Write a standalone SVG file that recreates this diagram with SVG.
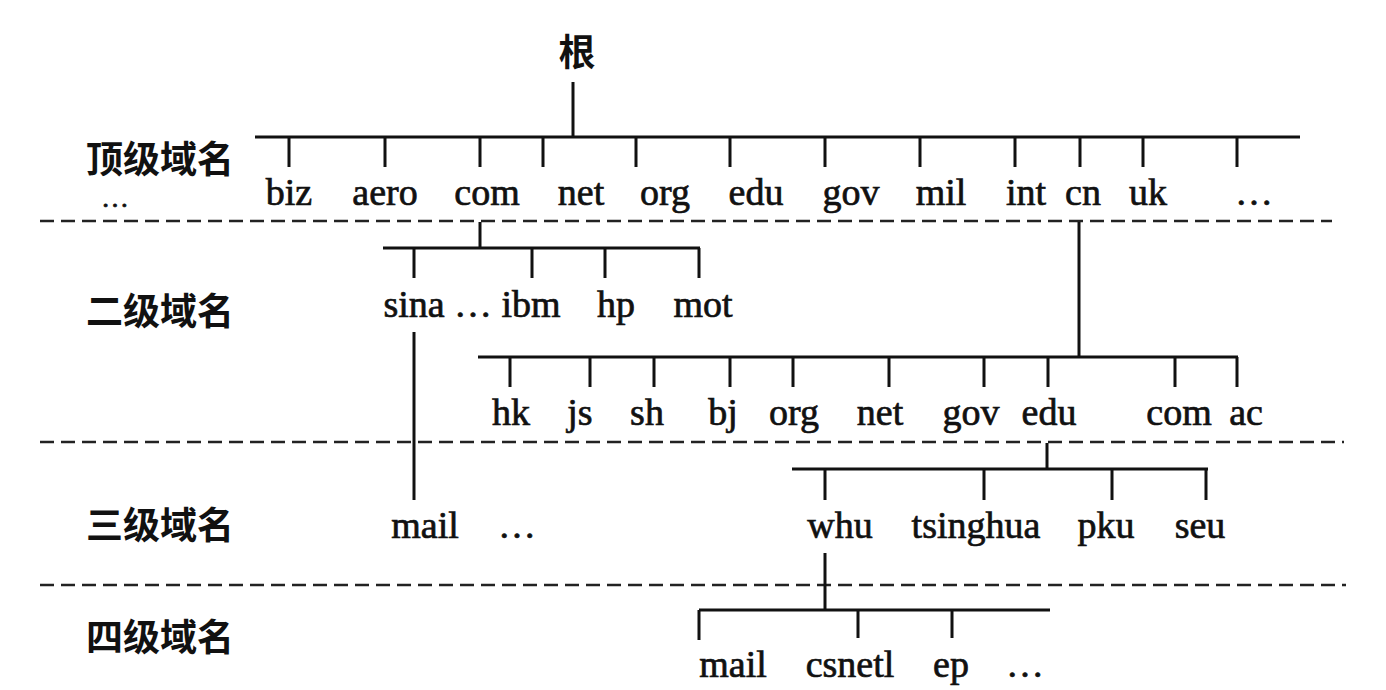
<svg xmlns="http://www.w3.org/2000/svg" width="1386" height="690" viewBox="0 0 1386 690">
<style>
.zh{font-family:"Noto Sans CJK SC","Noto Sans",sans-serif;font-size:37px;font-weight:700;fill:#111}
.t{font-family:"Liberation Serif","Times New Roman",serif;font-size:38px;fill:#111;stroke:#111;stroke-width:0.7;text-anchor:middle}
.ln{stroke:#111;stroke-width:3;fill:none}
.dash{stroke:#222;stroke-width:2.5;stroke-dasharray:14 7;fill:none}
</style>
<rect width="1386" height="690" fill="#fff"/>
<g id="levels">
<line class="dash" x1="40" y1="221" x2="1332" y2="221"/>
<line class="dash" x1="40" y1="442" x2="1344" y2="442"/>
<line class="dash" x1="40" y1="585" x2="1346" y2="585"/>
<text class="zh" x="86" y="173">顶级域名</text>
<text class="t" x="115" y="207" style="font-size:28px">…</text>
<text class="zh" x="86" y="325">二级域名</text>
<text class="zh" x="86" y="539">三级域名</text>
<text class="zh" x="86" y="651">四级域名</text>
</g>
<g id="connectors">
<line class="ln" x1="573" y1="82" x2="573" y2="137"/>
<line class="ln" x1="255" y1="137" x2="1300" y2="137"/>
<path class="ln" d="M289 137V167M385 137V167M480 137V167M543 137V167M636 137V167M730 137V167M825 137V167M920 137V167M1015 137V167M1080 137V167M1143 137V167M1237 137V167"/>
<line class="ln" x1="480" y1="222" x2="480" y2="248"/>
<line class="ln" x1="383" y1="248" x2="700" y2="248"/>
<path class="ln" d="M414 248V278M532 248V278M605 248V278M699 248V278"/>
<line class="ln" x1="1079" y1="222" x2="1079" y2="357"/>
<line class="ln" x1="478" y1="357" x2="1238" y2="357"/>
<path class="ln" d="M510 357V387M590 357V387M654 357V387M730 357V387M793 357V387M889 357V387M984 357V387M1048 357V387M1175 357V387M1237 357V387"/>
<line class="ln" x1="414" y1="332" x2="414" y2="500"/>
<line class="ln" x1="1047" y1="443" x2="1047" y2="469"/>
<line class="ln" x1="792" y1="469" x2="1208" y2="469"/>
<path class="ln" d="M825 469V500M984 469V500M1112 469V500M1206 469V500"/>
<line class="ln" x1="825" y1="553" x2="825" y2="610"/>
<line class="ln" x1="699" y1="610" x2="1050" y2="610"/>
<path class="ln" d="M699 610V640M858 610V638M952 610V638"/>
</g>
<g id="root"><text class="zh" x="577" y="66" text-anchor="middle">根</text></g>
<g id="tld">
<text class="t" x="289" y="205">biz</text>
<text class="t" x="385" y="205">aero</text>
<text class="t" x="487" y="205">com</text>
<text class="t" x="581" y="205">net</text>
<text class="t" x="665" y="205">org</text>
<text class="t" x="756" y="205">edu</text>
<text class="t" x="851" y="205">gov</text>
<text class="t" x="941" y="205">mil</text>
<text class="t" x="1026" y="205">int</text>
<text class="t" x="1083" y="205">cn</text>
<text class="t" x="1148" y="205">uk</text>
<text class="t" x="1254" y="205">…</text>
</g>
<g id="com-children">
<text class="t" x="414" y="317">sina</text>
<text class="t" x="473" y="317">…</text>
<text class="t" x="531" y="317">ibm</text>
<text class="t" x="616" y="317">hp</text>
<text class="t" x="703" y="317">mot</text>
</g>
<g id="cn-children">
<text class="t" x="511" y="425">hk</text>
<text class="t" x="580" y="425">js</text>
<text class="t" x="647" y="425">sh</text>
<text class="t" x="723" y="425">bj</text>
<text class="t" x="794" y="425">org</text>
<text class="t" x="880" y="425">net</text>
<text class="t" x="971" y="425">gov</text>
<text class="t" x="1049" y="425">edu</text>
<text class="t" x="1179" y="425">com</text>
<text class="t" x="1246" y="425">ac</text>
</g>
<g id="sina-children">
<text class="t" x="425" y="538">mail</text>
<text class="t" x="517" y="538">…</text>
</g>
<g id="edu-children">
<text class="t" x="840" y="538">whu</text>
<text class="t" x="976" y="538">tsinghua</text>
<text class="t" x="1106" y="538">pku</text>
<text class="t" x="1200" y="538">seu</text>
</g>
<g id="whu-children">
<text class="t" x="733" y="677">mail</text>
<text class="t" x="850" y="677">csnetl</text>
<text class="t" x="951" y="677">ep</text>
<text class="t" x="1025" y="677">…</text>
</g>
</svg>
